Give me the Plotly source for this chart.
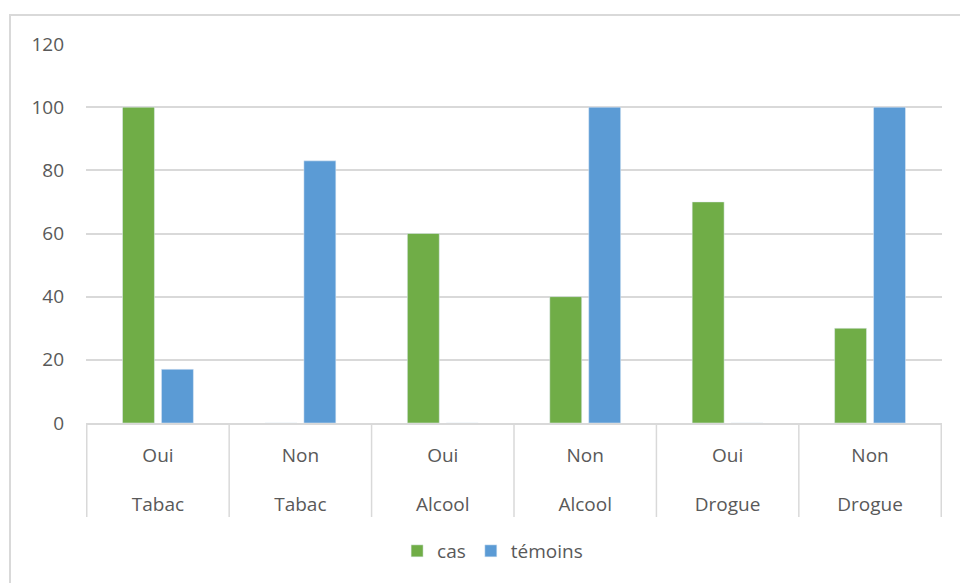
import plotly.graph_objects as go

# Data
groups = ["Tabac", "Tabac", "Alcool", "Alcool", "Drogue", "Drogue"]
answers = ["Oui", "Non", "Oui", "Non", "Oui", "Non"]
cas = [100, 0, 60, 40, 70, 30]
temoins = [17, 83, 0, 100, 0, 100]
y_ticks = [0, 20, 40, 60, 80, 100, 120]

GREEN = "#70AD47"
BLUE = "#5B9BD5"
GRID = "#D9D9D9"
TEXT = "#595959"
FONT = "Open Sans"

keys = [f"{a} {g}" for a, g in zip(answers, groups)]
labels = [f"{a}<br><br>{g}" for a, g in zip(answers, groups)]

fig = go.Figure()
fig.add_trace(go.Bar(name="cas", x=keys, y=cas, marker_color=GREEN))
fig.add_trace(go.Bar(name="témoins", x=keys, y=temoins, marker_color=BLUE))

# plot area geometry in pixels
W, H = 960, 583
L, R, T, B = 86, 18, 44, 160
pw, ph = W - L - R, H - T - B

shapes = []
# category dividers below the axis
for i in range(len(keys) + 1):
    shapes.append(dict(type="line", xref="x", yref="paper",
                       x0=i - 0.5, x1=i - 0.5, y0=0, y1=-94 / ph,
                       line=dict(color=GRID, width=1.5)))
# chart frame
shapes.append(dict(type="rect", xref="paper", yref="paper",
                   x0=(10 - L) / pw, x1=1.2, y0=-0.6, y1=(423 - 15) / ph,
                   line=dict(color=GRID, width=2), fillcolor="rgba(0,0,0,0)",
                   layer="below"))

fig.update_layout(
    width=W, height=H,
    margin=dict(l=L, r=R, t=T, b=B),
    paper_bgcolor="white", plot_bgcolor="white",
    font=dict(family=FONT, size=19, color=TEXT),
    barmode="group", bargap=0.453, bargroupgap=0.18,
    shapes=shapes,
    legend=dict(orientation="h", x=0.475, xanchor="center",
                y=(423 - 551) / ph, yanchor="middle",
                font=dict(size=19, color=TEXT), itemwidth=30,
                traceorder="normal"),
    xaxis=dict(
        type="category", tickmode="array", tickvals=keys, ticktext=labels,
        showgrid=False, showline=True, linecolor=GRID, linewidth=1.5,
        ticks="", ticklabelstandoff=14,
        tickfont=dict(size=19, color=TEXT),
    ),
    yaxis=dict(
        range=[0, 120], tickvals=y_ticks, showgrid=True, gridcolor=GRID,
        gridwidth=1.5, zeroline=False, showline=False, ticks="",
        ticklabelstandoff=21, tickfont=dict(size=19, color=TEXT),
    ),
)

fig.write_html("out.html")
